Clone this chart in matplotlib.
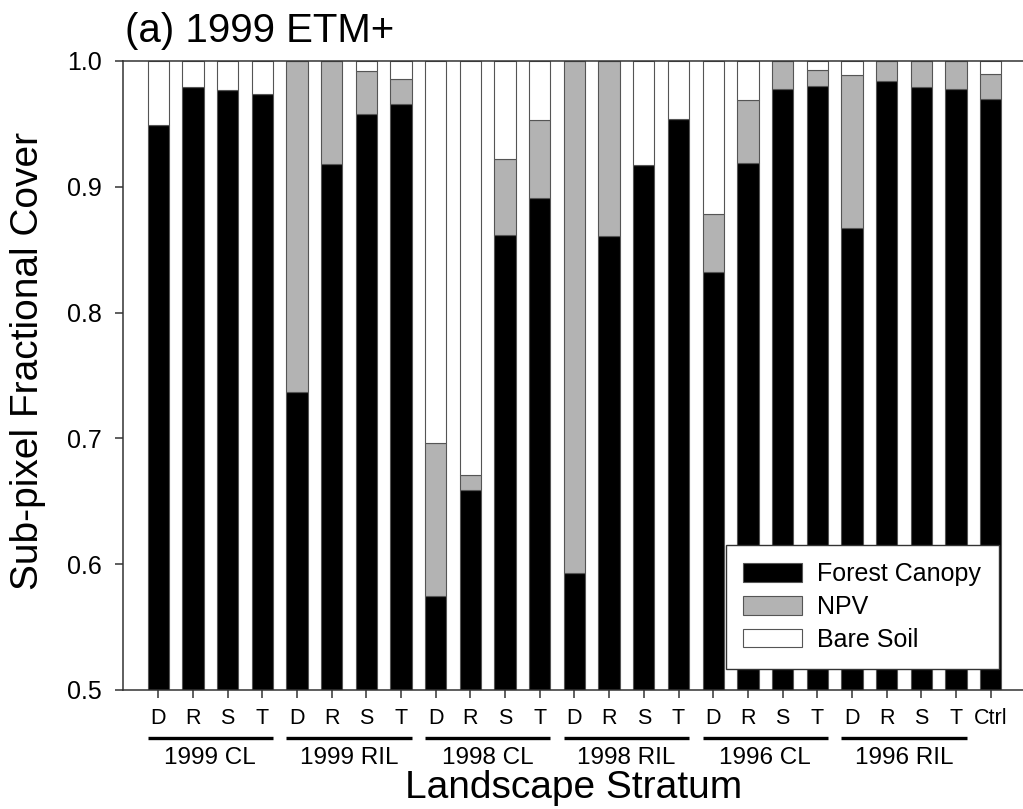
import matplotlib
matplotlib.use("Agg")
import matplotlib.pyplot as plt
import matplotlib.transforms as mtransforms
import numpy as np

plt.rcParams["font.family"] = ["Liberation Sans", "DejaVu Sans"]

# sub-pixel fractions per landscape stratum (D, R, S, T per harvest class, then control)
strata = ["D", "R", "S", "T"] * 6 + ["Ctrl"]
groups = ["1999 CL", "1999 RIL", "1998 CL", "1998 RIL", "1996 CL", "1996 RIL"]
canopy = [0.949, 0.979, 0.977, 0.974,
          0.737, 0.918, 0.958, 0.966,
          0.575, 0.659, 0.862, 0.891,
          0.593, 0.861, 0.917, 0.954,
          0.832, 0.919, 0.978, 0.980,
          0.867, 0.984, 0.979, 0.978,
          0.970]
npv = [0.0, 0.0, 0.0, 0.0,
       0.263, 0.082, 0.034, 0.020,
       0.121, 0.012, 0.060, 0.062,
       0.407, 0.139, 0.0, 0.0,
       0.046, 0.050, 0.022, 0.013,
       0.122, 0.016, 0.021, 0.022,
       0.020]
soil = [0.051, 0.021, 0.023, 0.026,
        0.0, 0.0, 0.008, 0.014,
        0.304, 0.329, 0.078, 0.047,
        0.0, 0.0, 0.083, 0.046,
        0.122, 0.031, 0.0, 0.007,
        0.011, 0.0, 0.0, 0.0,
        0.010]

x = np.arange(len(strata))
width = 0.615
canopy = np.array(canopy)
npv = np.array(npv)
soil = np.array(soil)

fig = plt.figure(figsize=(10.23, 8.09), dpi=100)
ax = fig.add_axes([0.1202, 0.1471, 0.88, 0.7775])

edge = dict(edgecolor="#555555", linewidth=0.8)
ax.bar(x, canopy, width, color="black", label="Forest Canopy", **edge)
ax.bar(x, npv, width, bottom=canopy, color="#b3b3b3", label="NPV", **edge)
ax.bar(x, soil, width, bottom=canopy + npv, color="white", label="Bare Soil", **edge)

ax.set_ylim(0.5, 1.0)
ax.set_xlim(-1.02, 24.94)
ax.set_yticks([0.5, 0.6, 0.7, 0.8, 0.9, 1.0])
ax.set_yticklabels([f"{v:.1f}" for v in [0.5, 0.6, 0.7, 0.8, 0.9, 1.0]])
ax.set_xticks(x)
ax.set_xticklabels(strata)
ax.tick_params(axis="y", direction="out", length=6, width=1.1, pad=9,
               labelsize=18, color="#333333")
ax.tick_params(axis="x", direction="out", length=6, width=1.1, pad=7,
               labelsize=15.5, color="#333333")
ax.spines["right"].set_visible(False)
for side in ["left", "bottom", "top"]:
    ax.spines[side].set_color("#333333")
    ax.spines[side].set_linewidth(1.1)

# harvest-class brackets under the stratum ticks
trans = mtransforms.blended_transform_factory(ax.transData, ax.transAxes)
for g, name in enumerate(groups):
    first, last = x[4 * g], x[4 * g + 3]
    ax.plot([first - width / 2, last + width / 2], [-0.0765, -0.0765],
            color="black", linewidth=2.4, transform=trans, clip_on=False,
            solid_capstyle="butt")
    ax.text((first + last) / 2, -0.117, name, transform=trans,
            ha="center", va="baseline", fontsize=17.5)

leg = ax.legend(loc="lower right", bbox_to_anchor=(0.9726, 0.0329),
                borderaxespad=0, fontsize=18, frameon=True, fancybox=False,
                handlelength=2.36, handleheight=0.76, handletextpad=0.6,
                borderpad=0.7, labelspacing=0.35)
leg.get_frame().set_edgecolor("#333333")
leg.get_frame().set_linewidth(1.0)
leg.get_frame().set_alpha(1)

fig.text(0.1222, 0.9485, "(a) 1999 ETM+", ha="left", va="baseline", fontsize=29)
fig.text(0.0274, 0.5538, "Sub-pixel Fractional Cover", rotation=90,
         ha="center", va="center", fontsize=28)
fig.text(0.5606, 0.0136, "Landscape Stratum", ha="center", va="baseline", fontsize=28)

fig.savefig("out.png", dpi=100)
